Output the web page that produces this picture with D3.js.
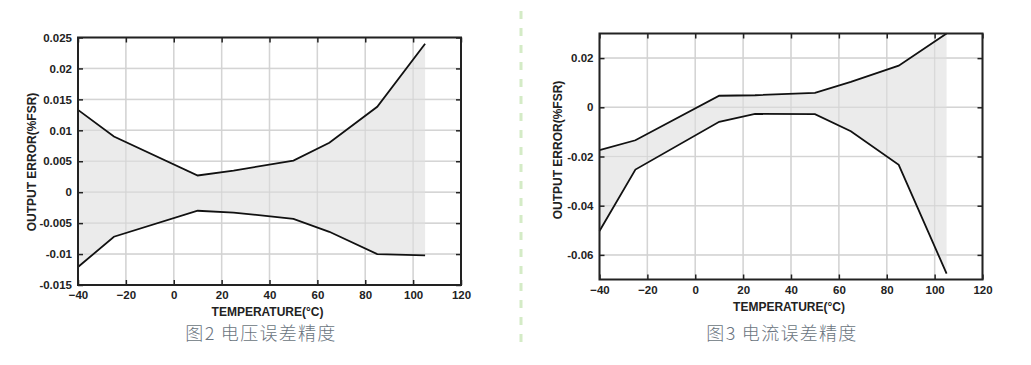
<!DOCTYPE html>
<html><head><meta charset="utf-8">
<script src="https://cdn.jsdelivr.net/npm/d3@7"></script>
<style>
html,body{margin:0;padding:0;background:#fff;}
svg{display:block;}
text{font-family:"Liberation Sans",Arial,sans-serif;}
</style></head><body>
<svg id="c" width="1031" height="365"></svg>
<script>
// ---- data ----
const temps = [-40, -25, 10, 25, 50, 65, 85, 105];
const voltUpper = [0.0133, 0.0090, 0.0027, 0.0035, 0.0051, 0.0080, 0.0138, 0.0240];
const voltLower = [-0.0121, -0.0072, -0.0030, -0.0033, -0.0043, -0.0064, -0.0100, -0.0102];
const currUpper = [-0.0174, -0.0134, 0.0047, 0.0049, 0.0059, 0.0103, 0.0169, 0.0300];
const currLower = [-0.0503, -0.0253, -0.0059, -0.0027, -0.0028, -0.0097, -0.0234, -0.0676];
const xTicks = [-40, -20, 0, 20, 40, 60, 80, 100, 120];
const voltYTicks = [-0.015, -0.01, -0.005, 0, 0.005, 0.01, 0.015, 0.02, 0.025];
const voltYLabels = ["-0.015", "-0.01", "-0.005", "0", "0.005", "0.01", "0.015", "0.02", "0.025"];
const currYTicks = [-0.06, -0.04, -0.02, 0, 0.02];
const currYLabels = ["-0.06", "-0.04", "-0.02", "0", "0.02"];
const xTitle = "TEMPERATURE(°C)";
const yTitle = "OUTPUT ERROR(%FSR)";
const captions = ["图2 电压误差精度", "图3 电流误差精度"];

const svg = d3.select("#c");

function chart(cfg){
  const g = svg.append("g");
  const x = d3.scaleLinear().domain([-40, 120]).range([cfg.left, cfg.right]);
  const y = d3.scaleLinear().domain(cfg.yDomain).range([cfg.bottom, cfg.top]);
  // grid
  g.append("g").selectAll("line.vx").data(xTicks).join("line")
    .attr("x1", d => x(d)).attr("x2", d => x(d)).attr("y1", cfg.top).attr("y2", cfg.bottom)
    .attr("stroke", "#d9d9d9").attr("stroke-width", 1.5);
  g.append("g").selectAll("line.hy").data(cfg.yTicks).join("line")
    .attr("x1", cfg.left).attr("x2", cfg.right).attr("y1", d => y(d)).attr("y2", d => y(d))
    .attr("stroke", "#d9d9d9").attr("stroke-width", 1.5);
  // area
  const pts = temps.map((t, i) => ({t, u: cfg.upper[i], l: cfg.lower[i]}));
  g.append("path").datum(pts)
    .attr("d", d3.area().x(d => x(d.t)).y0(d => y(d.l)).y1(d => y(d.u)))
    .attr("fill", "#e6e6e6").attr("fill-opacity", 0.8);
  // grid visible through fill
  g.append("g").selectAll("line").data(xTicks).join("line")
    .attr("x1", d => x(d)).attr("x2", d => x(d)).attr("y1", cfg.top).attr("y2", cfg.bottom)
    .attr("stroke", "#d0d0d0").attr("stroke-width", 1.2).attr("stroke-opacity", 0.6);
  g.append("g").selectAll("line").data(cfg.yTicks).join("line")
    .attr("x1", cfg.left).attr("x2", cfg.right).attr("y1", d => y(d)).attr("y2", d => y(d))
    .attr("stroke", "#d0d0d0").attr("stroke-width", 1.2).attr("stroke-opacity", 0.6);
  // lines
  const line = acc => d3.line().x(d => x(d.t)).y(d => y(acc(d)));
  g.append("path").datum(pts).attr("d", line(d => d.u))
    .attr("fill", "none").attr("stroke", "#111").attr("stroke-width", 1.8);
  g.append("path").datum(pts).attr("d", line(d => d.l))
    .attr("fill", "none").attr("stroke", "#111").attr("stroke-width", 1.8);
  // axes with inward ticks
  const fmt = (arr, labels) => d => labels[arr.indexOf(d)];
  const xb = g.append("g").attr("transform", `translate(0,${cfg.bottom})`)
    .call(d3.axisBottom(x).tickValues(xTicks).tickSizeInner(-5).tickSizeOuter(0).tickPadding(6));
  const xt = g.append("g").attr("transform", `translate(0,${cfg.top})`)
    .call(d3.axisTop(x).tickValues(xTicks).tickSizeInner(-5).tickSizeOuter(0).tickFormat(""));
  const yl = g.append("g").attr("transform", `translate(${cfg.left},0)`)
    .call(d3.axisLeft(y).tickValues(cfg.yTicks).tickSizeInner(-5).tickSizeOuter(0).tickPadding(6)
      .tickFormat(fmt(cfg.yTicks, cfg.yLabels)));
  const yr = g.append("g").attr("transform", `translate(${cfg.right},0)`)
    .call(d3.axisRight(y).tickValues(cfg.yTicks).tickSizeInner(-5).tickSizeOuter(0).tickFormat(""));
  [xb, xt, yl, yr].forEach(a => {
    a.select(".domain").remove();
    a.selectAll(".tick line").attr("stroke", "#222").attr("stroke-width", 1.5);
    a.selectAll(".tick text").attr("fill", "#222").style("font-size", "11.5px")
      .style("font-weight", "bold").style("font-family", "'Liberation Sans',Arial,sans-serif");
  });
  // frame
  g.append("rect").attr("x", cfg.left).attr("y", cfg.top)
    .attr("width", cfg.right - cfg.left).attr("height", cfg.bottom - cfg.top)
    .attr("fill", "none").attr("stroke", "#222").attr("stroke-width", 2);
  // titles
  g.append("text").attr("x", (cfg.left + cfg.right) / 2 - 2).attr("y", cfg.bottom + 31)
    .attr("text-anchor", "middle").attr("font-size", "12px").attr("font-weight", "bold")
    .attr("fill", "#222").text(xTitle);
  g.append("text").attr("transform", `translate(${cfg.yTitleX},${cfg.yTitleY}) rotate(-90)`)
    .attr("text-anchor", "middle").attr("font-size", "12px").attr("font-weight", "bold")
    .attr("fill", "#222").text(yTitle);
  g.append("text").attr("x", cfg.capX).attr("y", 339.5)
    .attr("text-anchor", "middle").attr("font-size", "18px")
    .style("font-family", "'Noto Sans CJK SC',sans-serif").style("font-weight", "300")
    .style("letter-spacing", "1.3px").attr("xml:space", "preserve")
    .attr("fill", "#6a7480").text(cfg.caption);
}

chart({left: 78, right: 461, top: 37.5, bottom: 285, yDomain: [-0.015, 0.025],
  yTicks: voltYTicks, yLabels: voltYLabels, upper: voltUpper, lower: voltLower,
  yTitleX: 36, yTitleY: 162, capX: 261, caption: captions[0]});
chart({left: 599.5, right: 982.5, top: 33.5, bottom: 279.5, yDomain: [-0.07, 0.03],
  yTicks: currYTicks, yLabels: currYLabels, upper: currUpper, lower: currLower,
  yTitleX: 562, yTitleY: 150, capX: 782, caption: captions[1]});

// divider
svg.append("line").attr("x1", 521).attr("x2", 521).attr("y1", 11).attr("y2", 344)
  .attr("stroke", "#d4ebc6").attr("stroke-width", 3).attr("stroke-dasharray", "8,9");
</script>
</body></html>
